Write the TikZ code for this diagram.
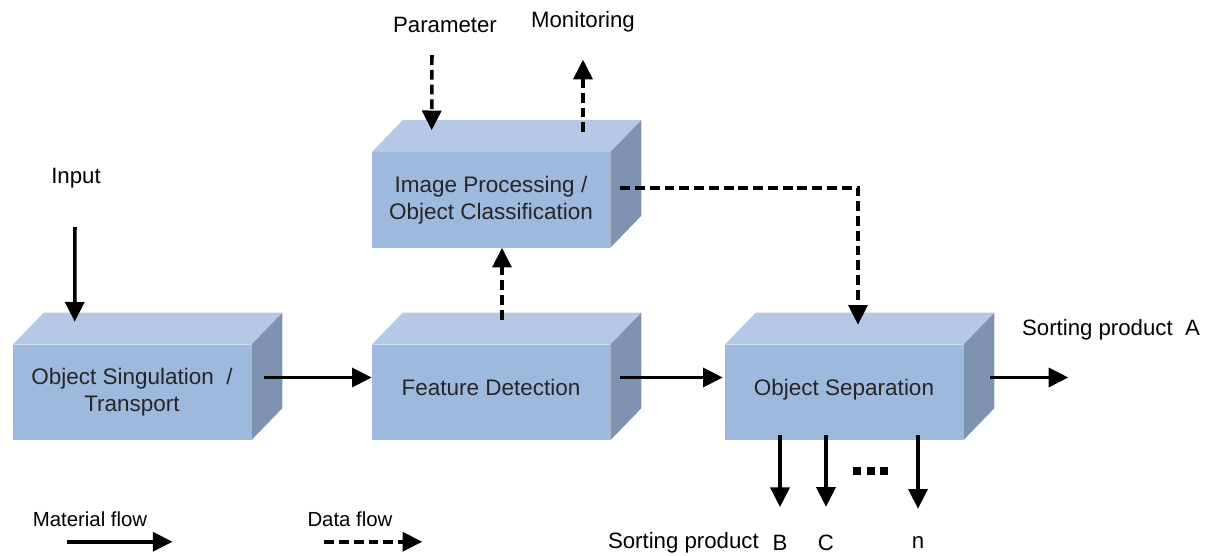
\documentclass[tikz,border=0pt]{standalone}
\usepackage{fontspec}
\setmainfont{Liberation Sans}
\usepackage{tikz}
\usetikzlibrary{arrows.meta, calc, positioning}
\definecolor{BoxFront}{RGB}{157,185,221}
\definecolor{BoxTop}{RGB}{180,201,229}
\definecolor{BoxSide}{RGB}{126,147,178}
\definecolor{TextGray}{RGB}{38,38,38}
\tikzset{
  % 3D blocks
  block/.style={fill=BoxFront,text=TextGray,minimum width=5.95cm,minimum height=2.375cm,
    inner sep=0pt,align=center,font=\fontsize{16}{19}\selectfont},
  oneline/.style={text depth=8pt},
  lbl/.style={text=black,inner sep=0pt,font=\fontsize{15.8}{18}\selectfont},
  legend/.style={lbl,font=\fontsize{14.5}{17}\selectfont},
  % flows
  mat/.style={-{Triangle[length=14pt,width=13.5pt]},line width=2.5pt},
  data/.style={mat,dash pattern=on 7pt off 3.5pt}
}

\begin{document}
\begin{tikzpicture}[x=0.025cm,y=-0.025cm]
  \useasboundingbox (0,0) rectangle (1219,556);
  \node[block] (sing) at (132,392.5) {Object Singulation \ /\\Transport};
  \node[block,oneline] (feat) at (491,392.5) {Feature Detection};
  \node[block] (imgproc) at (491,200) {Image Processing /\\Object Classification};
  \node[block,oneline] (sep) at (844,392.5) {Object Separation};
  \foreach \b in {sing,feat,imgproc,sep}{
    \fill[BoxTop] (\b.north west) -- ++(31,-32) -- ($(\b.north east)+(31,-32)$) -- (\b.north east) -- cycle;
    \fill[BoxSide] (\b.north east) -- ++(31,-32) -- ($(\b.south east)+(31,-32)$) -- (\b.south east) -- cycle;
  }
  % labels
  \node[lbl] (input) at (76,178) {Input};
  \node[lbl] (param) at (445,25) {Parameter};
  \node[lbl] (monitor) at (583,22) {Monitoring};
  \node[lbl] (prodA) at (1111,330) {Sorting product \ A};
  \node[lbl] (prodB) at (780,543) {B};
  \node[lbl,anchor=east] (prodtxt) at (759,543) {Sorting product};
  \node[lbl] (prodC) at (826,543) {C};
  \node[lbl] (prodN) at (918,543) {n};
  \node[legend] (matleg) at (90,519) {Material flow};
  \node[legend] (dataleg) at (350,519) {Data flow};
  % material flow
  \draw[mat] ($(input.south)+(-1,39)$) -- ($(sing.north west)+(62,-23)$);
  \draw[mat] ($(sing.east)+(13,-15)$) -- ($(feat.west)+(0,-15)$);
  \draw[mat] ($(feat.east)+(10,-15)$) -- ($(sep.west)+(-2,-15)$);
  \coordinate (outA) at ($(sep.east)+(105,-15)$);
  \draw[mat] ($(sep.east)+(27,-15)$) -- (outA);
  \foreach \p in {prodB,prodC,prodN}
    \draw[mat] (sep.south -| \p) ++(0,-5) -- ($(\p.north)+(0,-28)$);
  \foreach \i in {0,1,2}
    \fill (853+13.5*\i,467) rectangle ++(8,8);
  % data flow
  \draw[data] ($(feat.north)+(11,-25)$) -- ($(imgproc.south)+(11,0)$);
  \draw[data] ($(param.south)+(-13,22)$) -- ($(imgproc.north west)+(60,-22)$);
  \draw[data] ($(imgproc.north)+(92,-20)$) -- ($(monitor.south)+(0,27)$);
  \draw[data] ($(imgproc.east)+(10,-12)$) -| ($(sep.north)+(14,-20)$);
  % legend
  \draw[mat] ($(matleg.south west)+(35,15)$) -- ++(105,0);
  \draw[data] ($(dataleg.south west)+(17,15)$) -- ++(98,0);
\end{tikzpicture}
\end{document}
